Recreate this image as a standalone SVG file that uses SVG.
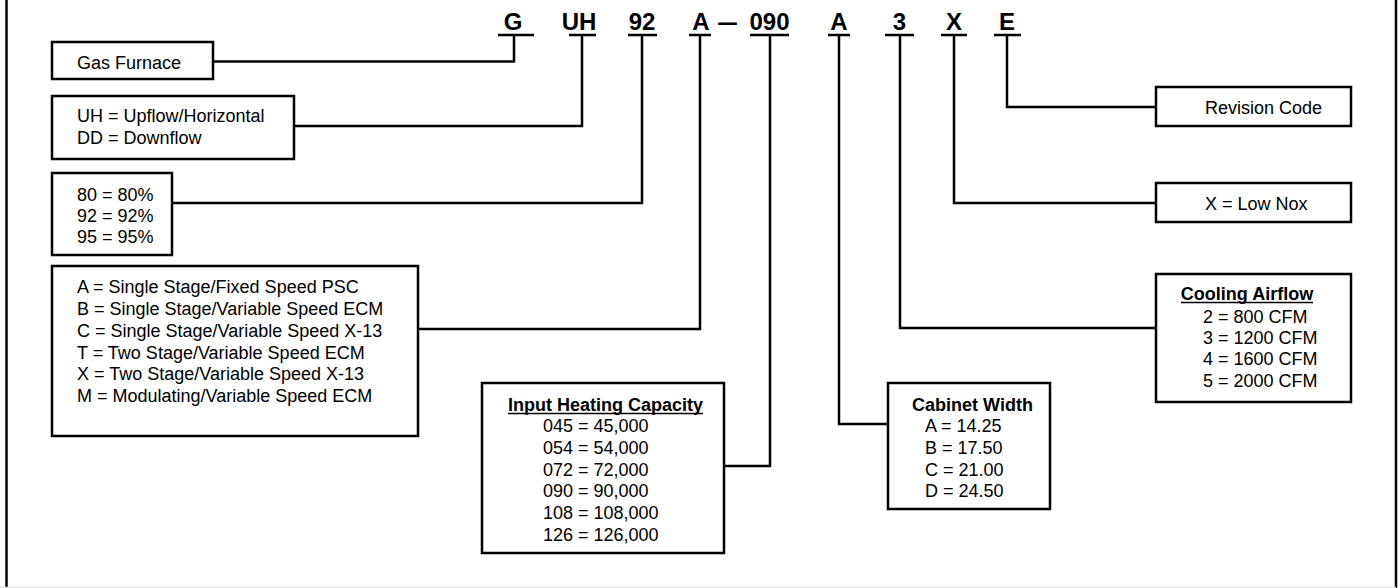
<svg xmlns="http://www.w3.org/2000/svg" width="1398" height="588" viewBox="0 0 1398 588">
<style>
.box{fill:#fff;stroke:#000;stroke-width:2.5}
.con{fill:none;stroke:#000;stroke-width:2.5}
.t{font-family:"Liberation Sans",Arial,sans-serif;font-size:18px;fill:#000}
.b{font-weight:bold}
.h{font-family:"Liberation Sans",Arial,sans-serif;font-size:24px;font-weight:bold;fill:#000;text-anchor:middle}
.ul{stroke:#000;stroke-width:2.5}
.ul2{stroke:#000;stroke-width:1.6}
</style>
<rect x="0" y="0" width="1398" height="588" fill="#fff"/>
<g id="frame">
<line x1="6.5" y1="0" x2="6.5" y2="588" stroke="#000" stroke-width="2.5"/>
<line x1="1396" y1="0" x2="1396" y2="588" stroke="#000" stroke-width="2.5"/>
<line x1="0" y1="587.5" x2="1396" y2="587.5" stroke="#e2e2e2" stroke-width="1.5"/>
</g>
<g id="model-code">
<text class="h" x="513" y="30">G</text>
<text class="h" x="579" y="30">UH</text>
<text class="h" x="642" y="30">92</text>
<text class="h" x="701" y="30">A</text>
<text class="h" x="727.5" y="30" textLength="21" lengthAdjust="spacingAndGlyphs">–</text>
<text class="h" x="769.5" y="30">090</text>
<text class="h" x="839" y="30">A</text>
<text class="h" x="899.5" y="30">3</text>
<text class="h" x="954" y="30">X</text>
<text class="h" x="1007" y="30">E</text>
<line class="ul" x1="498" y1="35" x2="534" y2="35"/>
<line class="ul" x1="569" y1="35" x2="596" y2="35"/>
<line class="ul" x1="628" y1="35" x2="657" y2="35"/>
<line class="ul" x1="689" y1="35" x2="711" y2="35"/>
<line class="ul" x1="750" y1="35" x2="789" y2="35"/>
<line class="ul" x1="828" y1="35" x2="850" y2="35"/>
<line class="ul" x1="885" y1="35" x2="914" y2="35"/>
<line class="ul" x1="941" y1="35" x2="967" y2="35"/>
<line class="ul" x1="994" y1="35" x2="1021" y2="35"/>
</g>
<g id="connectors">
<polyline class="con" points="213,61.5 514,61.5 514,35"/>
<polyline class="con" points="294,126 582,126 582,35"/>
<polyline class="con" points="172,203 642,203 642,35"/>
<polyline class="con" points="418,329 700,329 700,35"/>
<polyline class="con" points="724,466 770,466 770,35"/>
<polyline class="con" points="888,424 839,424 839,35"/>
<polyline class="con" points="1156,328 900,328 900,35"/>
<polyline class="con" points="1156,203 954,203 954,35"/>
<polyline class="con" points="1156,107 1007,107 1007,35"/>
</g>
<g id="gas-furnace">
<rect class="box" x="52" y="42" width="161" height="37"/>
<text class="t" x="77" y="69">Gas Furnace</text>
</g>
<g id="airflow-direction">
<rect class="box" x="52" y="96" width="242" height="63"/>
<text class="t" x="77" y="122">UH = Upflow/Horizontal</text>
<text class="t" x="77" y="144">DD = Downflow</text>
</g>
<g id="efficiency">
<rect class="box" x="52" y="173" width="120" height="82"/>
<text class="t" x="77" y="201">80 = 80%</text>
<text class="t" x="77" y="222">92 = 92%</text>
<text class="t" x="77" y="243">95 = 95%</text>
</g>
<g id="stage-motor">
<rect class="box" x="52" y="266" width="366" height="170"/>
<text class="t" x="77" y="293">A = Single Stage/Fixed Speed PSC</text>
<text class="t" x="77" y="315">B = Single Stage/Variable Speed ECM</text>
<text class="t" x="77" y="337">C = Single Stage/Variable Speed X-13</text>
<text class="t" x="77" y="359">T = Two Stage/Variable Speed ECM</text>
<text class="t" x="77" y="380">X = Two Stage/Variable Speed X-13</text>
<text class="t" x="77" y="402">M = Modulating/Variable Speed ECM</text>
</g>
<g id="input-heating-capacity">
<rect class="box" x="482" y="383" width="242" height="170"/>
<text class="t b" x="605.5" y="411" text-anchor="middle">Input Heating Capacity</text>
<line class="ul2" x1="508" y1="413.5" x2="703" y2="413.5"/>
<text class="t" x="543" y="432">045 = 45,000</text>
<text class="t" x="543" y="454">054 = 54,000</text>
<text class="t" x="543" y="476">072 = 72,000</text>
<text class="t" x="543" y="497">090 = 90,000</text>
<text class="t" x="543" y="519">108 = 108,000</text>
<text class="t" x="543" y="541">126 = 126,000</text>
</g>
<g id="cabinet-width">
<rect class="box" x="888" y="383" width="162" height="126"/>
<text class="t b" x="972.5" y="411" text-anchor="middle">Cabinet Width</text>
<text class="t" x="925" y="432">A = 14.25</text>
<text class="t" x="925" y="454">B = 17.50</text>
<text class="t" x="925" y="476">C = 21.00</text>
<text class="t" x="925" y="497">D = 24.50</text>
</g>
<g id="cooling-airflow">
<rect class="box" x="1156" y="274" width="195" height="128"/>
<text class="t b" x="1247" y="300" text-anchor="middle">Cooling Airflow</text>
<line class="ul2" x1="1181" y1="302.5" x2="1313" y2="302.5"/>
<text class="t" x="1203" y="323">2 = 800 CFM</text>
<text class="t" x="1203" y="344">3 = 1200 CFM</text>
<text class="t" x="1203" y="365">4 = 1600 CFM</text>
<text class="t" x="1203" y="387">5 = 2000 CFM</text>
</g>
<g id="low-nox">
<rect class="box" x="1156" y="183" width="195" height="39"/>
<text class="t" x="1205" y="210">X = Low Nox</text>
</g>
<g id="revision-code">
<rect class="box" x="1156" y="87" width="195" height="39"/>
<text class="t" x="1205" y="114">Revision Code</text>
</g>
</svg>
